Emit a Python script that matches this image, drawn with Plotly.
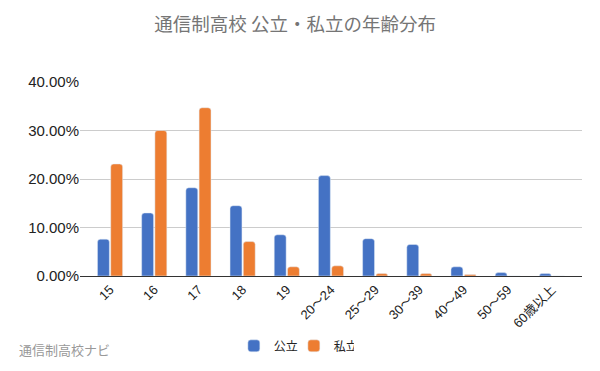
import plotly.graph_objects as go

categories = ["15", "16", "17", "18", "19", "20～24", "25～29", "30～39", "40～49", "50～59", "60歳以上"]
public_vals = [0.076, 0.130, 0.182, 0.145, 0.085, 0.207, 0.077, 0.065, 0.019, 0.007, 0.005]
private_vals = [0.231, 0.300, 0.347, 0.071, 0.019, 0.021, 0.005, 0.005, 0.003, 0.0, 0.0]
series_names = ["公立", "私立"]
y_ticks = [0, 0.1, 0.2, 0.3, 0.4]

FONT = "Arial, 'Liberation Sans', 'Noto Sans CJK JP', sans-serif"
CJK = "'Noto Sans CJK JP', sans-serif"

fig = go.Figure()
fig.add_trace(go.Bar(x=categories, y=public_vals, name=series_names[0],
                     marker=dict(color="#4472C4", cornerradius=3)))
fig.add_trace(go.Bar(x=categories, y=private_vals, name=series_names[1],
                     marker=dict(color="#ED7D31", cornerradius=3)))

fig.update_layout(
    width=600, height=371,
    margin=dict(l=80, r=18, t=82, b=95, autoexpand=False),
    paper_bgcolor="white", plot_bgcolor="white",
    font=dict(family=FONT, color="#222222"),
    barmode="group", bargap=0.4, bargroupgap=0.1,
    title=dict(text="通信制高校 公立・私立の年齢分布", x=0.492, xanchor="center",
               y=0.935, yanchor="middle",
               font=dict(size=18.5, color="#757575", family=CJK)),
    showlegend=True,
    legend=dict(orientation="h", x=0.426, xanchor="center", y=-0.36, yanchor="middle",
                font=dict(size=12, color="#222222", family=CJK),
                itemwidth=30, entrywidth=15, entrywidthmode="pixels"),
    annotations=[dict(text="通信制高校ナビ", xref="paper", yref="paper", x=-0.126, y=-0.381,
                      xanchor="left", yanchor="middle", showarrow=False,
                      font=dict(size=13, color="#999999", family=CJK))],
)
fig.update_xaxes(range=[-0.68, len(categories) - 0.32], tickangle=-45, automargin=False,
                 tickfont=dict(size=13, color="#222222"), showline=True, linecolor="#333333",
                 linewidth=1, ticks="", showgrid=False)
fig.update_yaxes(range=[0, 0.4], tickvals=y_ticks, tickformat=".2%", automargin=False,
                 tickfont=dict(size=15, color="#222222"), showgrid=True, gridcolor="#cccccc",
                 gridwidth=1, zeroline=False, ticks="", ticklen=0)

fig.write_html("out.html", config={"displayModeBar": False},
               post_script="document.body.style.margin='0';document.body.style.overflow='hidden';")
